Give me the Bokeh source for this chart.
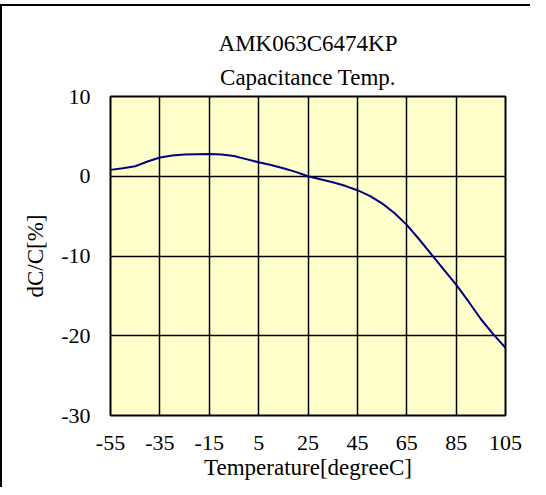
from bokeh.plotting import figure
from bokeh.models import FixedTicker, Title, Range1d
from bokeh.embed import file_html
from bokeh.resources import INLINE

title_line1 = "AMK063C6474KP"
title_line2 = "Capacitance Temp."
x_label = "Temperature[degreeC]"
y_label = "dC/C[%]"

x_ticks = [-55, -35, -15, 5, 25, 45, 65, 85, 105]
y_ticks = [-30, -20, -10, 0, 10]

temps = [-55, -50, -45, -40, -35, -30, -25, -20, -15, -10, -5, 0, 5, 10, 15, 20,
         25, 30, 35, 40, 45, 50, 55, 60, 65, 70, 75, 80, 85, 90, 95, 100, 105]
dc = [0.8, 1.0, 1.25, 1.85, 2.35, 2.6, 2.72, 2.77, 2.78, 2.72, 2.55, 2.15, 1.75, 1.4, 1.0, 0.55,
      0.0, -0.38, -0.75, -1.2, -1.75, -2.45, -3.4, -4.6, -6.1, -7.9, -9.8, -11.7, -13.6, -15.7,
      -17.9, -19.8, -21.5]

FONT = "Liberation Serif"

p = figure(width=530, height=483, output_backend="svg", toolbar_location=None,
           x_range=Range1d(-55, 105), y_range=Range1d(-30, 10),
           min_border_left=108, min_border_right=27, min_border_top=90, min_border_bottom=74,
           background_fill_color="#FFFFCC", border_fill_color="white",
           margin=(4, 0, 0, 0))
p.styles = {"border-left": "2px solid black", "border-top": "2px solid black"}

p.title = None
t2 = Title(text=title_line2, align="center", text_font=FONT, text_font_size="23px",
           text_font_style="normal", text_color="black", standoff=13)
t1 = Title(text=title_line1, align="center", text_font=FONT, text_font_size="23px",
           text_font_style="normal", text_color="black", standoff=1)
p.add_layout(t2, "above")
p.add_layout(t1, "above")

p.line(temps, dc, line_color="#000080", line_width=2)

for ax in (p.xaxis[0], p.yaxis[0]):
    ax.axis_line_color = None
    ax.major_tick_line_color = None
    ax.minor_tick_line_color = None
    ax.major_tick_out = 0
    ax.major_tick_in = 0
    ax.major_label_text_font = FONT
    ax.major_label_text_font_size = "22px"
    ax.major_label_text_color = "black"
    ax.axis_label_text_font = FONT
    ax.axis_label_text_font_size = "23px"
    ax.axis_label_text_font_style = "normal"
    ax.axis_label_text_color = "black"

p.xaxis.ticker = FixedTicker(ticks=x_ticks)
p.yaxis.ticker = FixedTicker(ticks=y_ticks)
p.xaxis.major_label_overrides = {t: str(t) for t in x_ticks}
p.yaxis.major_label_overrides = {t: str(t) for t in y_ticks}
p.xaxis.axis_label = x_label
p.yaxis.axis_label = y_label
p.xaxis.major_label_standoff = 20
p.xaxis.axis_label_standoff = 2
p.yaxis.major_label_standoff = 20
p.yaxis.axis_label_standoff = 10

p.xgrid.ticker = FixedTicker(ticks=x_ticks)
p.ygrid.ticker = FixedTicker(ticks=y_ticks)
p.grid.grid_line_color = "black"
p.grid.grid_line_width = 1.5
p.grid.grid_line_alpha = 1.0

p.outline_line_color = "black"
p.outline_line_width = 2
p.outline_line_alpha = 1.0

open("out.html", "w").write(file_html(p, INLINE))
